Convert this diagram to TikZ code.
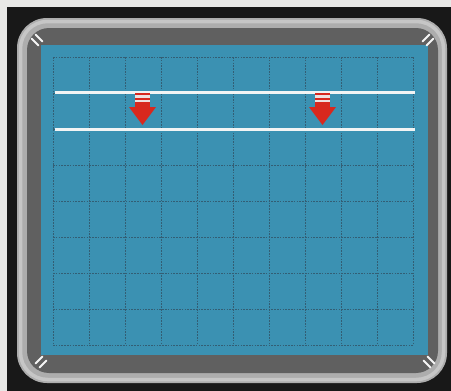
\documentclass[tikz,border=0pt]{standalone}
\usetikzlibrary{calc}
\definecolor{bgout}{HTML}{E8E8E6}
\definecolor{frameblack}{HTML}{181818}
\definecolor{bezel}{HTML}{ADADAD}
\definecolor{bezelhi}{HTML}{C6C6C6}
\definecolor{innerdark}{HTML}{606060}
\definecolor{screen}{HTML}{3B91B2}
\definecolor{gridc}{HTML}{335E74}
\definecolor{arrowred}{HTML}{D8281E}
\definecolor{lineW}{HTML}{F2F4F4}
\tikzset{
  gridline/.style={gridc, line width=0.8pt, dash pattern=on 1.6pt off 1.2pt},
  scanline/.style={lineW, line width=3pt},
  cornermark/.style={white!92!gray, line width=2pt, line cap=round},
}
\newcommand{\downarrowmark}[1]{%
  \fill[lineW!90!arrowred] (#1-7.5,93) rectangle (#1+7.5,101.5);
  \fill[arrowred] (#1-7.5,93) rectangle (#1+7.5,95.3);
  \fill[arrowred] (#1-7.5,97.5) rectangle (#1+7.5,99.7);
  \fill[arrowred] (#1-7.5,101.5) rectangle (#1+7.5,107.5);
  \fill[arrowred] (#1-13.5,107) -- (#1+13.5,107) -- (#1,125) -- cycle;
}
\begin{document}
\begin{tikzpicture}[x=1pt,y=-1pt]
\useasboundingbox (0,0) rectangle (451,391);
\fill[bgout] (0,0) rectangle (451,391);
\fill[frameblack] (7,7) rectangle (451,391);
% bezel
\fill[bezel, rounded corners=30pt] (17,18) rectangle (447,383);
\draw[bezelhi, line width=3.5pt, rounded corners=27pt] (20.5,21.5) rectangle (443.5,379.5);
% inner dark frame
\fill[innerdark, rounded corners=22pt] (27,28) rectangle (438,373);
% screen
\fill[screen] (41,45) rectangle (428,355);
% grid
\foreach \x in {53,89,...,413} \draw[gridline] (\x,57) -- (\x,345);
\foreach \y in {57,93,...,345} \draw[gridline] (53,\y) -- (413,\y);
% white scan lines
\draw[scanline] (55,92) -- (415,92);
\draw[scanline] (55,129.5) -- (415,129.5);
% red arrows
\downarrowmark{142.5}
\downarrowmark{322.5}
% corner marks
\foreach \cx/\cy/\dx/\dy in {37/40/1/1, 428/40/-1/1, 41/362/1/-1, 429/362/-1/-1}{
  \draw[cornermark] ($(\cx,\cy)+(-3.5*\dx+2*\dx,-3.5*\dy-2*\dy)$) -- ++(7*\dx,7*\dy);
  \draw[cornermark] ($(\cx,\cy)+(-3.5*\dx-2*\dx,-3.5*\dy+2*\dy)$) -- ++(7*\dx,7*\dy);
}
\end{tikzpicture}
\end{document}
